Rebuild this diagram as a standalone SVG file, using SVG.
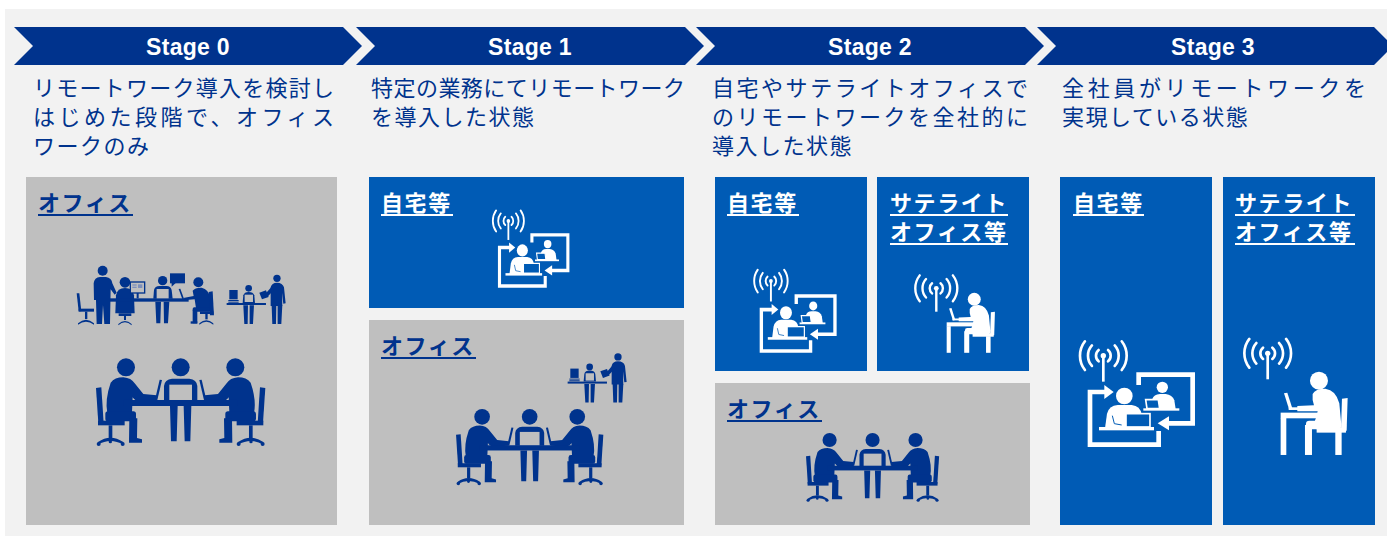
<svg xmlns="http://www.w3.org/2000/svg" width="1387" height="538" viewBox="0 0 1387 538">
<style>
.bg{fill:#f2f2f2}
.chev{fill:#00338d}
.stage{font-family:"Liberation Sans",Arial,sans-serif;font-weight:700;font-size:23px;fill:#fff;text-anchor:middle;letter-spacing:0.3px}
.desc{font-family:"Noto Sans CJK JP","Noto Sans CJK SC",sans-serif;font-size:22px;fill:#00338d}
.last{letter-spacing:1.5px}
.box-g{fill:#bfbfbf}
.box-b{fill:#005bb5}
.lbl{font-family:"Noto Sans CJK JP","Noto Sans CJK SC",sans-serif;font-weight:700;font-size:22px;letter-spacing:1.6px}
.lbl-w{fill:#fff}
.lbl-d{fill:#00338d}
.ul-w{stroke:#fff;stroke-width:2}
.ul-d{stroke:#00338d;stroke-width:2}
</style>
<defs>
  <!-- radio mast with waves, centred on the mast tip -->
  <g id="antenna">
    <g fill="none" stroke="#fff" stroke-width="8" stroke-linecap="round">
      <path d="M-14.1,-16.9 A22,22 0 0 0 -14.1,16.9 M14.1,-16.9 A22,22 0 0 1 14.1,16.9"/>
      <path d="M-34.2,-30.8 A46,46 0 0 0 -34.2,30.8 M34.2,-30.8 A46,46 0 0 1 34.2,30.8"/>
      <path d="M-55.2,-43.1 A70,70 0 0 0 -55.2,43.1 M55.2,-43.1 A70,70 0 0 1 55.2,43.1"/>
    </g>
    <rect x="-4" y="0" width="8" height="78" fill="#fff"/>
    <circle r="8" fill="#fff"/>
  </g>

  <!-- home worker linked with a remote colleague -->
  <g id="homeBody">
    <use href="#antenna" transform="translate(85,62)"/>
    <path d="M94,171 H45 V329 H251 V288" fill="none" stroke="#fff" stroke-width="14"/>
    <polygon points="116,171 88,150 88,192" fill="#fff"/>
    <path d="M191,150 V119 H353 V265 H280" fill="none" stroke="#fff" stroke-width="14"/>
    <polygon points="248,265 282,244 282,286" fill="#fff"/>
    <circle cx="262" cy="157" r="17" fill="#fff"/>
    <path d="M230,222 L232,192 Q236,178 255,177 L272,177 Q292,179 298,196 L302,222 Z" fill="#fff"/>
    <path d="M212,194 L250,194 L254,221 L216,221 Z" fill="#005bb5" stroke="#fff" stroke-width="5"/>
    <rect x="205" y="220" width="108" height="7" fill="#fff"/>
    <circle cx="148" cy="183" r="25" fill="#fff"/>
    <path d="M90,280 L96,236 Q102,212 128,210 L170,210 Q196,213 200,238 L204,280 Z" fill="#fff"/>
    <path d="M112,242 L118,266 L140,270" fill="none" stroke="#005bb5" stroke-width="3"/>
    <rect x="153" y="236" width="72" height="40" fill="#005bb5" stroke="#fff" stroke-width="5"/>
    <rect x="72" y="276" width="165" height="10" fill="#fff"/>
  </g>

  <!-- seated worker with laptop -->
  <g id="satPerson" fill="#fff">
    <circle cx="807" cy="632" r="27"/>
    <path d="M788,672 Q796,656 826,656 Q858,660 868,700 L874,764 L800,778 L790,766 L800,738 L803,724 L742,724 L742,708 L792,706 Q786,690 788,672 Z"/>
    <rect x="768" y="752" width="106" height="26" rx="10"/>
    <rect x="765" y="765" width="21" height="90"/>
    <path d="M876,686 L893,684 L890,782 L873,782 Z"/>
    <rect x="800" y="774" width="88" height="14"/>
    <rect x="856" y="786" width="19" height="69"/>
    <rect x="692" y="728" width="116" height="17"/>
    <rect x="692" y="744" width="17" height="111"/>
    <path d="M702,670 L712,668 L728,718 L718,720 Z"/>
    <rect x="716" y="712" width="40" height="8"/>
  </g>

  <!-- one side of the meeting table: seated person, chair, laptop -->
  <g id="mtgSide">
    <circle cx="108" cy="52" r="27"/>
    <path d="M62,98 Q74,82 100,82 Q124,84 134,100 L160,132 L200,136 L200,152 L148,154 Q134,153 128,142 L126,186 L52,190 Q44,150 62,98 Z"/>
    <rect x="46" y="184" width="92" height="30" rx="8"/>
    <path d="M118,205 L142,205 L141,264 L156,268 L156,278 L117,278 Z"/>
    <path d="M18,114 L34,112 L41,220 L25,220 Z"/>
    <rect x="24" y="212" width="80" height="14"/>
    <rect x="56" y="226" width="11" height="38"/>
    <path d="M24,276 Q61,250 100,276 L100,284 Q61,262 24,284 Z"/>
    <circle cx="26" cy="282" r="6"/>
    <circle cx="61" cy="275" r="5"/>
    <circle cx="98" cy="282" r="6"/>
    <path d="M209,89 L216,90 L202,150 L195,149 Z"/>
  </g>

  <!-- three people around a table -->
  <g id="meeting" fill="#00338d">
    <use href="#mtgSide"/>
    <use href="#mtgSide" transform="translate(544,0) scale(-1,1)"/>
    <circle cx="272" cy="52" r="27"/>
    <path d="M222,152 L222,108 Q224,88 246,86 L298,86 Q320,88 322,108 L322,152 Z"/>
    <rect x="238" y="104" width="68" height="48" fill="#bfbfbf"/>
    <rect x="100" y="150" width="344" height="18"/>
    <path d="M240,168 L263,168 L260,274 L243,274 Z M281,168 L304,168 L301,274 L284,274 Z"/>
  </g>

  <!-- small desk with a worker and a visitor -->
  <g id="deskGroup" fill="#00338d">
    <rect x="628" y="120" width="25" height="28"/>
    <rect x="625" y="150" width="31" height="3"/>
    <rect x="625" y="155" width="31" height="3"/>
    <rect x="620" y="159" width="118" height="6"/>
    <circle cx="686" cy="115" r="10"/>
    <path d="M668,159 L670,136 Q673,126 686,126 Q700,126 703,136 L705,159 Z"/>
    <rect x="674" y="134" width="25" height="22" fill="#bfbfbf"/>
    <path d="M670,166 L684,166 L683,222 L673,222 Z M689,166 L702,166 L699,222 L689,222 Z"/>
    <circle cx="771" cy="85" r="11"/>
    <path d="M752,168 L752,112 Q755,98 771,98 Q788,98 792,112 L797,160 L790,161 L786,128 L787,168 Z"/>
    <path d="M755,110 L761,121 L742,141 L735,133 Z"/>
    <polygon points="718,128 738,121 746,141 726,148"/>
    <path d="M755,166 L769,166 L768,222 L757,222 Z M773,166 L787,166 L784,222 L773,222 Z"/>
  </g>

  <!-- open-plan office row -->
  <g id="officeSmall" fill="#00338d">
    <path d="M170,130 L178,130 L184,184 L176,184 Z"/>
    <rect x="176" y="176" width="46" height="9"/>
    <rect x="195" y="185" width="7" height="22"/>
    <path d="M174,220 Q198,198 222,220 L222,224 Q198,206 174,224 Z"/>
    <circle cx="248" cy="62" r="15"/>
    <path d="M222,150 L221,100 Q223,82 240,81 L258,81 Q275,83 277,100 L290,128 L284,134 L272,118 L270,222 L253,222 L249,165 L246,222 L230,222 L228,150 Z"/>
    <circle cx="315" cy="97" r="16"/>
    <path d="M286,190 L288,136 Q292,114 315,114 Q338,114 342,136 L344,190 Z"/>
    <rect x="296" y="190" width="38" height="8"/>
    <rect x="312" y="198" width="6" height="12"/>
    <path d="M295,222 Q315,204 335,222 L335,226 Q315,208 295,226 Z"/>
    <rect x="331" y="96" width="43" height="33" fill="#bfbfbf" stroke="#00338d" stroke-width="4"/>
    <rect x="337" y="103" width="13" height="4" fill="#7d90bd"/>
    <rect x="337" y="110" width="13" height="4" fill="#7d90bd"/>
    <rect x="354" y="103" width="13" height="11" fill="#7d90bd"/>
    <rect x="350" y="129" width="6" height="16"/>
    <rect x="270" y="145" width="236" height="10"/>
    <circle cx="428" cy="92" r="14"/>
    <path d="M400,146 L402,120 Q405,108 418,108 L440,108 Q452,108 455,120 L458,146 Z"/>
    <rect x="410" y="117" width="36" height="28" fill="#bfbfbf"/>
    <path d="M406,155 L423,155 L421,220 L409,220 Z M431,155 L448,155 L444,220 L432,220 Z"/>
    <rect x="450" y="70" width="45" height="30"/>
    <polygon points="455,98 468,98 455,110"/>
    <path d="M476,117 L481,116 L492,146 L487,147 Z"/>
    <circle cx="535" cy="97" r="15"/>
    <path d="M518,122 Q526,112 545,113 Q566,118 570,142 L572,180 L530,182 L527,168 L524,148 L498,150 L490,144 L521,138 Z"/>
    <rect x="518" y="172" width="54" height="13" rx="5"/>
    <rect x="518" y="180" width="14" height="40"/>
    <rect x="512" y="214" width="20" height="7"/>
    <path d="M566,126 L578,124 L582,196 L570,196 Z"/>
    <rect x="540" y="184" width="40" height="8"/>
    <rect x="556" y="192" width="7" height="16"/>
    <path d="M538,220 Q559,202 580,220 L580,224 Q559,206 538,224 Z"/>
    <use href="#deskGroup"/>
  </g>
</defs>

<rect class="bg" x="5" y="9" width="1382" height="527"/>

<!-- stage 0 -->
<g id="stage0">
  <polygon class="chev" points="14,27 343,27 362,46 343,65 14,65 33,46"/>
  <text class="stage" x="188" y="55">Stage 0</text>
  <text class="desc" x="33" y="96" textLength="301" lengthAdjust="spacing">リモートワーク導入を検討し</text>
  <text class="desc" x="33" y="125" textLength="301" lengthAdjust="spacing">はじめた段階で、オフィス</text>
  <text class="desc last" x="33" y="154">ワークのみ</text>
</g>
<g id="stage0-office">
  <rect class="box-g" x="26" y="177" width="311" height="348"/>
  <text class="lbl lbl-d" x="38" y="211">オフィス</text>
  <line class="ul-d" x1="38" y1="215" x2="133" y2="215"/>
  <use href="#officeSmall" transform="translate(20,250) scale(0.3333)"/>
  <use href="#meeting" transform="translate(90,350) scale(0.3333)"/>
</g>

<!-- stage 1 -->
<g id="stage1">
  <polygon class="chev" points="356,27 685,27 704,46 685,65 356,65 375,46"/>
  <text class="stage" x="530" y="55">Stage 1</text>
  <text class="desc" x="371" y="96" textLength="314" lengthAdjust="spacing">特定の業務にてリモートワーク</text>
  <text class="desc last" x="371" y="125">を導入した状態</text>
</g>
<g id="stage1-home">
  <rect class="box-b" x="369" y="177" width="315" height="131"/>
  <text class="lbl lbl-w" x="381" y="211">自宅等</text>
  <line class="ul-w" x1="381" y1="215" x2="453" y2="215"/>
  <use href="#homeBody" transform="translate(489.5,205.8) scale(0.222,0.244)"/>
</g>
<g id="stage1-office">
  <rect class="box-g" x="369" y="320" width="315" height="205"/>
  <text class="lbl lbl-d" x="381" y="354">オフィス</text>
  <line class="ul-d" x1="381" y1="358" x2="476" y2="358"/>
  <use href="#deskGroup" transform="translate(361,328.6) scale(0.3333)"/>
  <use href="#meeting" transform="translate(450.8,401.75) scale(0.29)"/>
</g>

<!-- stage 2 -->
<g id="stage2">
  <polygon class="chev" points="696,27 1025,27 1044,46 1025,65 696,65 715,46"/>
  <text class="stage" x="870" y="55">Stage 2</text>
  <text class="desc" x="712" y="96" textLength="316" lengthAdjust="spacing">自宅やサテライトオフィスで</text>
  <text class="desc" x="712" y="125" textLength="316" lengthAdjust="spacing">のリモートワークを全社的に</text>
  <text class="desc last" x="712" y="154">導入した状態</text>
</g>
<g id="stage2-home">
  <rect class="box-b" x="715" y="177" width="152" height="194"/>
  <text class="lbl lbl-w" x="727" y="211">自宅等</text>
  <line class="ul-w" x1="727" y1="215" x2="799" y2="215"/>
  <use href="#homeBody" transform="translate(750.6,264.8) scale(0.239,0.262)"/>
</g>
<g id="stage2-satellite">
  <rect class="box-b" x="877" y="177" width="152" height="194"/>
  <text class="lbl lbl-w" x="890" y="211">サテライト</text>
  <line class="ul-w" x1="890" y1="215" x2="1008" y2="215"/>
  <text class="lbl lbl-w" x="890" y="240">オフィス等</text>
  <line class="ul-w" x1="890" y1="244" x2="1008" y2="244"/>
  <use href="#antenna" transform="translate(936.3,288.3) scale(0.3)"/>
  <use href="#satPerson" transform="translate(780.6,147.6) scale(0.24)"/>
</g>
<g id="stage2-office">
  <rect class="box-g" x="715" y="383" width="315" height="142"/>
  <text class="lbl lbl-d" x="727" y="417">オフィス</text>
  <line class="ul-d" x1="727" y1="421" x2="822" y2="421"/>
  <use href="#meeting" transform="translate(801.3,426.4) scale(0.262)"/>
</g>

<!-- stage 3 -->
<g id="stage3">
  <polygon class="chev" points="1037,27 1374,27 1393,46 1374,65 1037,65 1056,46"/>
  <text class="stage" x="1213" y="55">Stage 3</text>
  <text class="desc" x="1062" y="96" textLength="304" lengthAdjust="spacing">全社員がリモートワークを</text>
  <text class="desc last" x="1062" y="125">実現している状態</text>
</g>
<g id="stage3-home">
  <rect class="box-b" x="1060" y="177" width="152" height="348"/>
  <text class="lbl lbl-w" x="1073" y="211">自宅等</text>
  <line class="ul-w" x1="1073" y1="215" x2="1144" y2="215"/>
  <use href="#homeBody" transform="translate(1075,335) scale(0.3333)"/>
</g>
<g id="stage3-satellite">
  <rect class="box-b" x="1223" y="177" width="152" height="348"/>
  <text class="lbl lbl-w" x="1235" y="211">サテライト</text>
  <line class="ul-w" x1="1235" y1="215" x2="1355" y2="215"/>
  <text class="lbl lbl-w" x="1235" y="240">オフィス等</text>
  <line class="ul-w" x1="1235" y1="244" x2="1355" y2="244"/>
  <use href="#antenna" transform="translate(1267.7,353.3) scale(0.3333)"/>
  <use href="#satPerson" transform="translate(1050,170) scale(0.3333)"/>
</g>
</svg>
